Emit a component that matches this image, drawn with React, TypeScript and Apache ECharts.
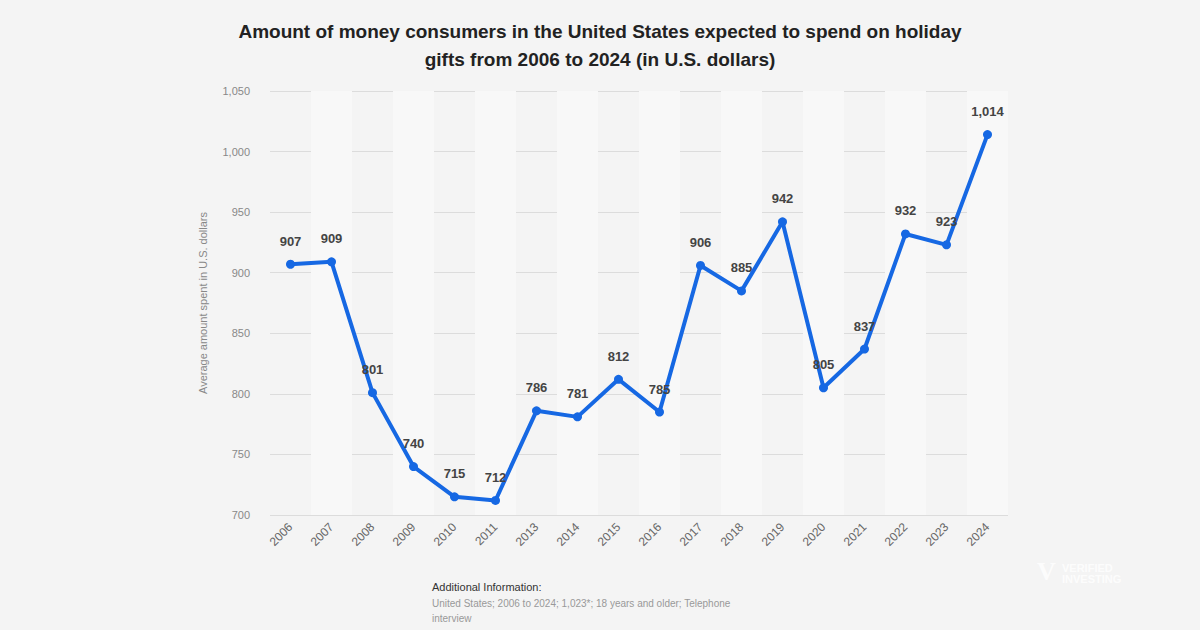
import React, { useEffect, useRef } from "react";
import * as echarts from "echarts";

const years = ["2006","2007","2008","2009","2010","2011","2013","2014","2015","2016","2017","2018","2019","2020","2021","2022","2023","2024"];
const spend = [907, 909, 801, 740, 715, 712, 786, 781, 812, 785, 906, 885, 942, 805, 837, 932, 923, 1014];
const yTicks = { min: 700, max: 1050, interval: 50 };
const titleText = "Amount of money consumers in the United States expected to spend on holiday\ngifts from 2006 to 2024 (in U.S. dollars)";
const yAxisName = "Average amount spent in U.S. dollars";
const infoTitle = "Additional Information:";
const infoBody = "United States; 2006 to 2024; 1,023*; 18 years and older; Telephone\ninterview";

export default function App() {
  const ref = useRef<HTMLDivElement>(null);
  useEffect(() => {
    document.body.style.margin = "0";
    const chart = echarts.init(ref.current!, null, { renderer: "svg" });
    chart.setOption({
      animation: false,
      backgroundColor: "#f4f4f4",
      textStyle: { fontFamily: "Liberation Sans, Arial, sans-serif" },
      title: {
        text: titleText,
        left: "center",
        top: 12,
        textStyle: { fontSize: 19, fontWeight: "bold", color: "#222", lineHeight: 28, fontFamily: "Liberation Sans, Arial, sans-serif" },
      },
      grid: { left: 270, right: 192, top: 91, bottom: 115 },
      xAxis: {
        type: "category",
        data: years,
        boundaryGap: true,
        axisLine: { show: false },
        axisTick: { show: false },
        axisLabel: { rotate: 45, color: "#666", fontSize: 12, margin: 10, interval: 0 },
        splitArea: { show: true, interval: 0, areaStyle: { color: ["rgba(255,255,255,0)", "#f8f8f8"] } },
      },
      yAxis: {
        type: "value",
        min: yTicks.min,
        max: yTicks.max,
        interval: yTicks.interval,
        name: yAxisName,
        nameLocation: "middle",
        nameGap: 62,
        nameRotate: 90,
        nameTextStyle: { color: "#888", fontSize: 11 },
        axisLine: { show: false },
        axisTick: { show: false },
        axisLabel: {
          color: "#888",
          fontSize: 11,
          margin: 20,
          formatter: (v: number) => v.toLocaleString("en-US"),
        },
        splitLine: { lineStyle: { color: "#dcdcdc", width: 1 } },
      },
      series: [
        {
          type: "line",
          data: spend,
          symbol: "circle",
          symbolSize: 9,
          lineStyle: { color: "#1668e3", width: 4 },
          itemStyle: { color: "#1668e3" },
          label: {
            show: true,
            position: "top",
            distance: 12,
            color: "#444",
            fontSize: 13,
            fontWeight: "bold",
            formatter: (p: any) => Number(p.value).toLocaleString("en-US"),
          },
        },
      ],
      graphic: [
        {
          type: "text",
          left: 432,
          top: 581,
          style: { text: infoTitle, fontSize: 11, fill: "#333", fontFamily: "Liberation Sans, Arial, sans-serif" },
        },
        {
          type: "text",
          left: 432,
          top: 596,
          style: { text: infoBody, fontSize: 10, fill: "#999", lineHeight: 15, fontFamily: "Liberation Sans, Arial, sans-serif" },
        },
        {
          type: "text",
          left: 1062,
          top: 562,
          style: { text: "VERIFIED\nINVESTING", fontSize: 11, fontWeight: "bold", fill: "#ffffff", opacity: 0.8, lineHeight: 11, fontFamily: "Liberation Sans, Arial, sans-serif" },
        },
        {
          type: "text",
          left: 1037,
          top: 558,
          style: { text: "V", fontSize: 26, fontWeight: "bold", fill: "#ffffff", opacity: 0.8, fontFamily: "Liberation Serif, serif" },
        },
      ],
    });
    return () => chart.dispose();
  }, []);
  return <div ref={ref} style={{ width: 1200, height: 630 }} />;
}
